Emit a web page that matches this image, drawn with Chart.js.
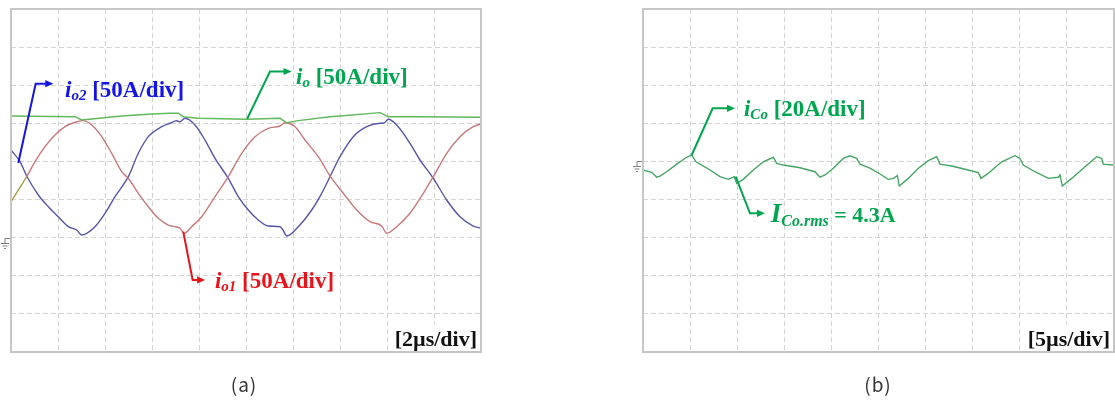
<!DOCTYPE html>
<html><head><meta charset="utf-8">
<script src="https://cdn.jsdelivr.net/npm/chart.js@4.4.1/dist/chart.umd.min.js"></script>
<style>
html,body{margin:0;padding:0;background:#fff;width:1115px;height:400px;overflow:hidden;}
canvas{position:absolute;top:0;}
#ca{left:0;} #cb{left:560px;}
.cap{position:absolute;top:374px;line-height:20px;font-family:"Noto Sans CJK KR","Noto Sans",sans-serif;font-size:19px;color:#333;letter-spacing:1px;transform:translateX(-50%);white-space:nowrap;}
</style></head><body>
<canvas id="ca" width="560" height="400"></canvas>
<canvas id="cb" width="555" height="400"></canvas>
<div class="cap" style="left:244px">(a)</div>
<div class="cap" style="left:878px">(b)</div>
<script>
// ---------- (a) time axis [µs] and currents [A] ----------
const A_T_IO2 = [0,0.383,0.668,1.162,1.587,2.013,2.438,2.796,3.009,3.221,3.574,4.0,4.426,4.991,5.417,5.843,6.413,6.766,7.05,7.19,7.404,7.83,8.255,8.681,9.247,9.672,10.098,10.523,10.949,11.447,11.574,11.732,12.226,12.796,13.221,13.574,14.0,14.566,15.136,15.702,15.872,16.055,16.413,16.979,17.404,17.97,18.54,19.106,19.672,20.0];
const A_IO2   = [115.0,99.7,80.9,56.0,40.6,27.5,14.4,10.1,3.5,5.7,14.4,32.0,53.8,80.0,110.7,132.5,145.6,150.1,153.3,152.0,156.6,147.8,128.1,104.1,77.9,53.8,36.3,23.2,15.3,14.4,10.1,2.2,14.4,36.3,58.2,80.0,106.2,132.5,145.6,150.1,150.4,155.3,147.8,123.8,101.9,77.9,49.4,27.5,15.3,12.3];

const A_T_IO1 = [0,0.311,0.668,1.021,1.447,1.872,2.298,2.723,3.077,3.434,3.86,4.285,4.711,4.991,5.417,5.843,6.268,6.694,6.979,7.191,7.374,7.689,8.115,8.681,9.247,9.817,10.383,10.949,11.447,11.66,12.085,12.511,13.077,13.574,14.14,14.711,15.277,15.774,15.987,16.413,16.979,17.545,17.97,18.54,19.106,19.672,20.0];
const A_IO1   = [47.2,62.5,80.0,99.7,119.4,134.7,145.6,151.4,153.5,147.8,132.5,110.7,86.6,77.9,58.2,40.6,25.4,16.6,14.4,12.3,5.7,14.4,27.5,53.8,80.0,110.7,132.5,143.5,146.5,150.8,145.6,128.1,106.2,81.0,58.2,36.3,21.0,15.3,5.7,14.4,32.0,58.2,80.0,110.7,132.5,145.6,149.1];

const A_T_IO = [0,2.723,3.009,3.434,4.711,5.987,6.766,7.119,7.332,7.97,10.03,11.447,11.732,12.226,13.574,14.0,15.702,16.055,17.404,20.0];
const A_IO   = [159.6,158.7,154.4,155.7,159.6,162.3,163.2,163.2,158.7,156.6,155.3,156.6,150.8,153.5,158.7,159.6,164.0,158.7,158.7,157.9];

// ---------- (b) time axis [µs] and capacitor current [A] ----------
const B_T   = [0,0.924,1.454,1.805,2.516,3.578,4.639,5.17,5.626,6.051,7.113,8.174,9.055,9.692,9.947,10.648,11.709,12.771,13.833,14.194,14.894,16.667,18.26,18.79,19.321,20.202,21.264,21.975,22.686,23.036,24.098,25.16,26.04,26.57,27.0,27.21,28.16,29.23,30.29,31.18,31.53,32.77,34.18,35.6,35.88,36.66,38.08,39.49,40.02,40.37,41.61,43.03,44.09,44.27,44.51,45.51,46.92,48.16,48.69,48.86,49.92,50.0];
const B_ICO = [-4.5,-5.7,-8.3,-7.7,-5.4,-1.4,2.2,3.4,-0.2,-1.4,-4.5,-8.0,-9.4,-8.0,-11.5,-9.4,-4.5,-0.2,2.2,-1.0,-1.9,-3.3,-5.4,-8.3,-7.1,-3.6,1.6,3.0,1.6,-1.4,-3.5,-6.6,-9.4,-8.9,-7.5,-12.9,-8.9,-3.6,0.4,2.5,-1.4,-2.4,-4.1,-5.9,-8.9,-6.2,-0.2,3.0,1.6,-1.9,-5.4,-8.9,-8.3,-7.1,-12.9,-8.9,-2.8,2.5,1.6,-1.4,-1.9,-1.9];

// ---------- annotation texts ----------
const A_SCALE_TEXT = '[2\u00b5s/div]';
const B_SCALE_TEXT = '[5\u00b5s/div]';

const A_LABELS = [
  {color:'#1414e6', arrow:[[0.31,98],[1.05,202],[1.80,202]], at:[2.30,185],
   parts:[['i',23,1,0],['o2',15,1,3],[' [50A/div]',23,0,0]]},
  {color:'#00a54f', arrow:[[10.05,156],[11.02,218],[11.94,218]], at:[12.13,201],
   parts:[['i',23,1,0],['o',15,1,3],[' [50A/div]',23,0,0]]},
  {color:'#e8141c', arrow:[[7.33,8],[7.73,-55.5],[8.26,-55.5]], at:[8.68,-66],
   parts:[['i',23,1,0],['o1',15,1,3],[' [50A/div]',23,0,0]]}
];
const B_LABELS = [
  {color:'#00a54f', arrow:[[5.17,3.4],[7.40,27.9],[9.77,27.9]], at:[10.72,23.8],
   parts:[['i',23,1,0],['Co',15,1,3],[' [20A/div]',23,0,0]]},
  {color:'#00a54f', arrow:[[9.84,-8.0],[11.36,-27.2],[12.95,-27.2]], at:[13.56,-31.6],
   parts:[['I',27,1,0],['Co.rms',16,1,4],[' = 4.3A',22,0,0]]}
];

const SERIF = '"Liberation Serif","Times New Roman",serif';
function fontOf(size, italic){ return (italic ? 'italic ' : '') + 'bold ' + size + 'px ' + SERIF; }

const overlay = {
  id: 'overlay',
  afterDatasetsDraw(chart, args, opts) {
    const {ctx, chartArea: a, scales: {x, y}} = chart;
    ctx.save();
    // ground marker at value 0
    const gy = Math.round(y.getPixelForValue(0)) + 0.5;
    const lx = a.left;
    ctx.strokeStyle = '#808080'; ctx.lineWidth = 1;
    ctx.beginPath();
    ctx.moveTo(lx, gy); ctx.lineTo(lx - 6, gy); ctx.lineTo(lx - 6, gy + 5);
    ctx.moveTo(lx - 10, gy + 5); ctx.lineTo(lx - 2, gy + 5);
    ctx.moveTo(lx - 8.5, gy + 7.5); ctx.lineTo(lx - 3.5, gy + 7.5);
    ctx.moveTo(lx - 7, gy + 10); ctx.lineTo(lx - 5, gy + 10);
    ctx.stroke();

    // arrows + labels
    for (const L of opts.labels) {
      const pts = L.arrow.map(p => [x.getPixelForValue(p[0]), y.getPixelForValue(p[1])]);
      ctx.strokeStyle = L.color; ctx.fillStyle = L.color; ctx.lineWidth = 2; ctx.lineJoin = 'miter';
      const [x1, y1] = pts[pts.length - 2], [x2, y2] = pts[pts.length - 1];
      const ang = Math.atan2(y2 - y1, x2 - x1), HL = 8, HW = 3.6;
      ctx.beginPath();
      pts.forEach((p, i) => {
        if (i === 0) ctx.moveTo(p[0], p[1]);
        else if (i === pts.length - 1) ctx.lineTo(p[0] - HL * 0.7 * Math.cos(ang), p[1] - HL * 0.7 * Math.sin(ang));
        else ctx.lineTo(p[0], p[1]);
      });
      ctx.stroke();
      ctx.beginPath();
      ctx.moveTo(x2, y2);
      ctx.lineTo(x2 - HL * Math.cos(ang) + HW * Math.sin(ang), y2 - HL * Math.sin(ang) - HW * Math.cos(ang));
      ctx.lineTo(x2 - HL * Math.cos(ang) - HW * Math.sin(ang), y2 - HL * Math.sin(ang) + HW * Math.cos(ang));
      ctx.closePath(); ctx.fill();

      let cx = x.getPixelForValue(L.at[0]);
      const by = y.getPixelForValue(L.at[1]);
      ctx.textBaseline = 'alphabetic'; ctx.textAlign = 'left';
      for (const [t, s, it, dy] of L.parts) {
        ctx.font = fontOf(s, it);
        ctx.fillText(t, cx, by + dy);
        cx += ctx.measureText(t).width;
      }
    }

    // time-scale label with white backing
    ctx.font = fontOf(22, 0);
    const w = ctx.measureText(opts.scaleText).width;
    const xr = a.right - 4;
    ctx.fillStyle = '#fff';
    ctx.fillRect(xr - w - 3, a.bottom - 27, w + 6, 26);
    ctx.fillStyle = '#111'; ctx.textAlign = 'right';
    ctx.fillText(opts.scaleText, xr, a.bottom - 6);

    // frame
    ctx.strokeStyle = '#c6c6c6'; ctx.lineWidth = 2;
    ctx.strokeRect(a.left, a.top, a.right - a.left, a.bottom - a.top);
    ctx.restore();
  }
};

function pts(ts, vs){ return ts.map((t, i) => ({x: t, y: vs[i]})); }

function axis(min, max, step){
  return { type: 'linear', min, max,
    ticks: {display: false, stepSize: step},
    grid: {color: '#d4d4d4', lineWidth: 1, drawTicks: false},
    border: {display: false, dash: [5, 3]} };
}

function makeChart(id, c){
  return new Chart(document.getElementById(id), {
    type: 'line',
    data: { datasets: c.datasets },
    options: {
      responsive: false, animation: false, events: [],
      layout: { padding: c.pad },
      plugins: { legend: {display: false}, tooltip: {enabled: false},
                 overlay: {labels: c.labels, scaleText: c.scaleText} },
      scales: { x: axis(c.x[0], c.x[1], c.x[2]), y: axis(c.y[0], c.y[1], c.y[2]) },
      elements: { point: {radius: 0}, line: {tension: 0, borderWidth: 1.4} }
    },
    plugins: [overlay]
  });
}

makeChart('ca', {
  pad: {left: 11, top: 9, right: 79, bottom: 48},
  x: [0, 20, 2], y: [-150, 300, 50],
  labels: A_LABELS, scaleText: A_SCALE_TEXT,
  datasets: [
    {label: 'io', data: pts(A_T_IO, A_IO), borderColor: '#62b85a'},
    {label: 'io1', data: pts(A_T_IO1, A_IO1), borderColor: '#c9787c', cubicInterpolationMode: 'monotone',
     segment: {borderColor: ctx => ctx.p1.parsed.x <= 0.7 ? '#a8a04a' : undefined}},
    {label: 'io2', data: pts(A_T_IO2, A_IO2), borderColor: '#5656aa', cubicInterpolationMode: 'monotone'}
  ]
});

makeChart('cb', {
  pad: {left: 83, top: 9, right: 1, bottom: 48},
  x: [0, 50, 5], y: [-100, 80, 20],
  labels: B_LABELS, scaleText: B_SCALE_TEXT,
  datasets: [
    {label: 'iCo', data: pts(B_T, B_ICO), borderColor: '#45a565'}
  ]
});
</script></body></html>
